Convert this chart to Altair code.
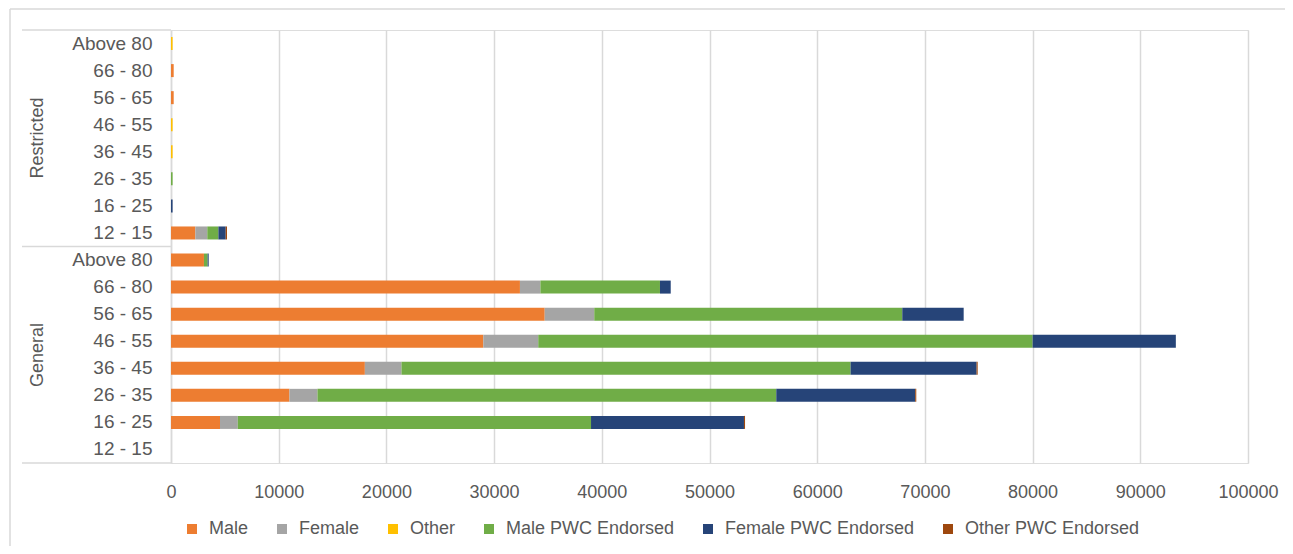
import altair as alt
import pandas as pd

groups = ["Restricted"] * 8 + ["General"] * 8
ages = ["Above 80", "66 - 80", "56 - 65", "46 - 55", "36 - 45", "26 - 35", "16 - 25", "12 - 15"] * 2

series = ["Male", "Female", "Other", "Male PWC Endorsed", "Female PWC Endorsed", "Other PWC Endorsed"]
colors = ["#ED7D31", "#A5A5A5", "#FFC000", "#70AD47", "#264478", "#9E480E"]

male = [0, 250, 250, 0, 0, 0, 0, 2260, 3060, 32400, 34700, 29000, 18000, 11000, 4550, 0]
female = [0, 0, 0, 0, 0, 0, 0, 1110, 0, 1900, 4600, 5100, 3400, 2600, 1650, 0]
other = [150, 0, 0, 150, 150, 0, 0, 0, 0, 0, 0, 0, 0, 0, 0, 0]
male_pwc = [0, 0, 0, 0, 0, 150, 0, 1030, 340, 11100, 28600, 45900, 41700, 42600, 32800, 0]
female_pwc = [0, 0, 0, 0, 0, 0, 150, 680, 100, 1000, 5700, 13300, 11700, 12900, 14200, 0]
other_pwc = [0, 0, 0, 0, 0, 0, 0, 120, 0, 0, 0, 0, 100, 100, 100, 0]

x_ticks = [0, 10000, 20000, 30000, 40000, 50000, 60000, 70000, 80000, 90000, 100000]

all_vals = [male, female, other, male_pwc, female_pwc, other_pwc]
keys = [f"{g}|{a}" for g, a in zip(groups, ages)]

rows = []
for si, (s, vals) in enumerate(zip(series, all_vals)):
    for k, v in zip(keys, vals):
        rows.append({"key": k, "series": s, "idx": si, "value": v})
df = pd.DataFrame(rows)

W, H = 1077, 433
FONT = "Liberation Sans"
GRAY = "#595959"
LINE = "#d9d9d9"

bars = alt.Chart(df).transform_filter("datum.value > 0").mark_bar(size=13).encode(
    x=alt.X("value:Q", stack="zero",
            scale=alt.Scale(domain=[0, 100000], nice=False),
            axis=alt.Axis(values=x_ticks, format="d", title=None, grid=True,
                          gridColor=LINE, gridWidth=1.5, domain=False, ticks=False,
                          labelColor=GRAY, labelFontSize=18, labelFont=FONT,
                          labelPadding=20, labelFlush=False)),
    y=alt.Y("key:N", scale=alt.Scale(domain=keys),
            axis=alt.Axis(title=None, ticks=False, domainColor=LINE, domainWidth=1.5,
                          labelExpr="split(datum.label, '|')[1]",
                          labelColor=GRAY, labelFontSize=19, labelFont=FONT,
                          labelPadding=19)),
    color=alt.Color("series:N", scale=alt.Scale(domain=series, range=colors),
                    legend=alt.Legend(title=None, orient="none", direction="horizontal",
                                      legendX=12, legendY=490, symbolType="square",
                                      symbolSize=100, symbolStrokeWidth=0,
                                      labelFontSize=18, labelFont=FONT, labelColor=GRAY,
                                      labelLimit=400, columnPadding=24, labelOffset=8)),
    order=alt.Order("idx:Q", sort="ascending"),
)

one = pd.DataFrame({"a": [0]})

def hline(ypix, x1, x2):
    return alt.Chart(one).mark_rule(color=LINE, strokeWidth=1.5).encode(
        x=alt.value(x1), x2=alt.value(x2), y=alt.value(ypix))

seps = [hline(0, -149, 0), hline(216.5, -149, 0), hline(H, -149, 0)]

border_top = alt.Chart(one).mark_rule(color=LINE, strokeWidth=1.5).encode(
    x=alt.value(-161), x2=alt.value(W + 37), y=alt.value(-21))
border_left = alt.Chart(one).mark_rule(color=LINE, strokeWidth=1.5).encode(
    x=alt.value(-161), y=alt.value(-21), y2=alt.value(H + 83))

grp_df = pd.DataFrame({"g": ["Restricted", "General"], "yp": [108, 325]})
grp_text = alt.Chart(grp_df).mark_text(angle=270, fontSize=18, font=FONT, color=GRAY,
                                       baseline="middle", align="center").encode(
    x=alt.value(-133), y=alt.Y("yp:Q", scale=None), text="g:N")

chart = alt.layer(border_top, border_left, *seps, bars, grp_text).properties(
    width=W, height=H,
    autosize=alt.AutoSizeParams(type="none"),
    padding={"left": 163, "top": 22, "right": 37, "bottom": 83},
).configure_view(stroke=None).configure(background="white")

chart.save("out.html", embed_options={"renderer": "svg", "actions": False})
